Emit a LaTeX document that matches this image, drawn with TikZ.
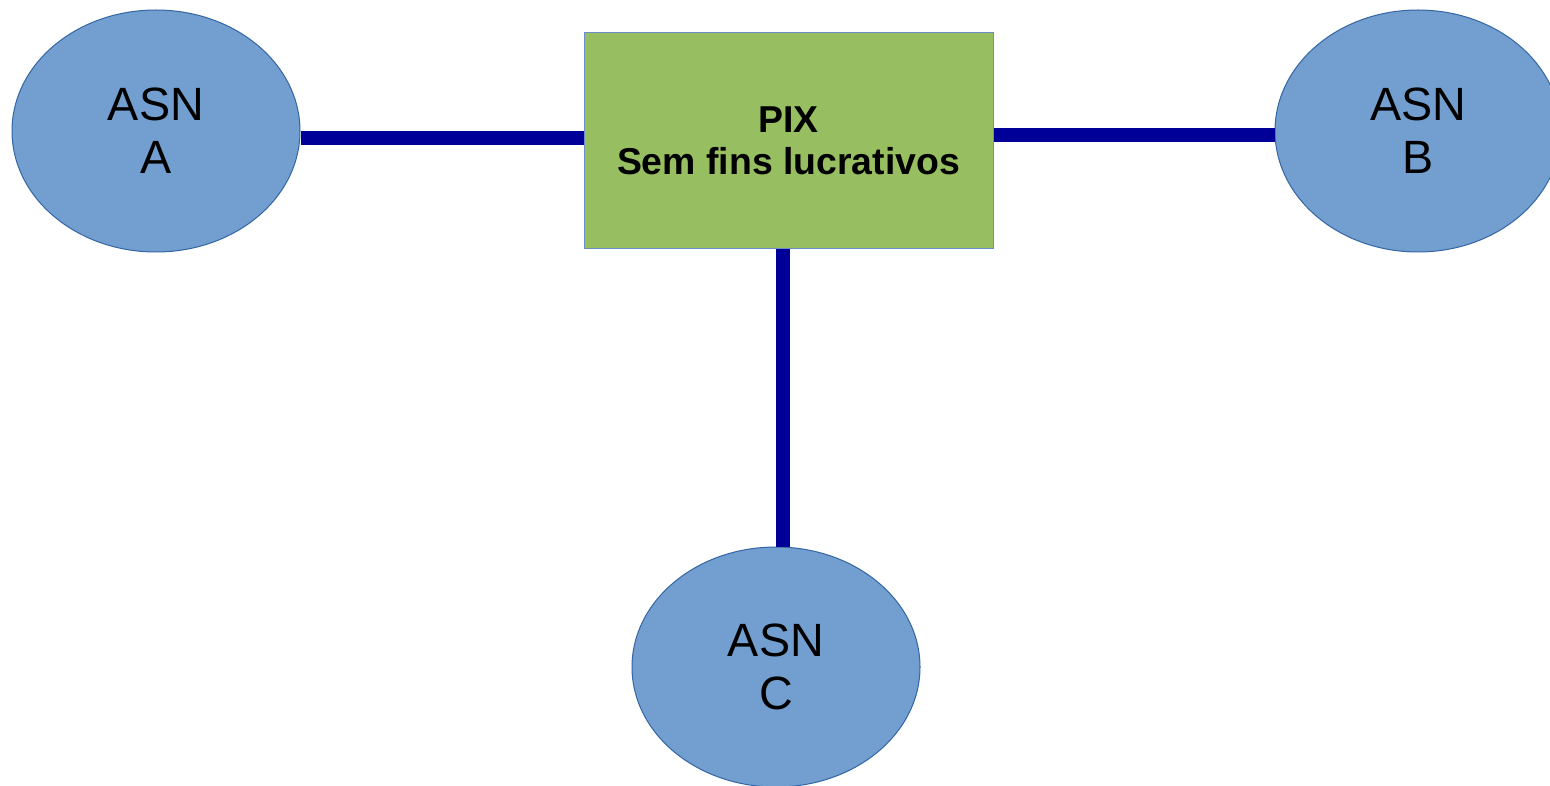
\documentclass[tikz,border=0pt]{standalone}
\usepackage{fontspec}
\setmainfont{Liberation Sans}
\usetikzlibrary{shapes.geometric}
\definecolor{asnfill}{HTML}{729FCF}
\definecolor{asnline}{HTML}{3465A4}
\definecolor{pixfill}{HTML}{97BE60}
\definecolor{pixline}{HTML}{6A8FC8}
\definecolor{linkblue}{HTML}{000099}
\tikzset{
  asn/.style={ellipse, draw=asnline, fill=asnfill, line width=1pt, inner sep=0pt,
    minimum width=288pt, minimum height=242pt, align=center,
    font=\fontsize{46.7}{53}\selectfont},
  pixbox/.style={rectangle, draw=pixline, fill=pixfill, line width=1pt, inner sep=0pt,
    minimum width=409pt, minimum height=216pt, align=center,
    font=\bfseries\fontsize{37.4}{41.5}\selectfont},
  link/.style={draw=linkblue, line width=14.5pt}
}
\begin{document}
\begin{tikzpicture}[x=1pt,y=-1pt]
\useasboundingbox (0,0) rectangle (1550,786);
\clip (0,0) rectangle (1550,786);
\fill[white] (0,0) rectangle (1550,786);
\node[asn] (A) at (156,131) {ASN\\A};
\node[asn, minimum width=286pt] (B) at (1418,131) {ASN\\B};
\node[asn, minimum height=240pt] (C) at (776,667) {ASN\\C};
\node[pixbox] (P) at (788.5,141) {PIX\\Sem fins lucrativos};
\draw[link] ([yshift=-7pt]A.east) -- ([yshift=3pt]P.west);
\draw[link] ([yshift=6pt]P.east) -- ([yshift=-4pt]B.west);
\draw[link] ([xshift=-5.5pt]P.south) -- ([xshift=7pt]C.north);
\end{tikzpicture}
\end{document}
